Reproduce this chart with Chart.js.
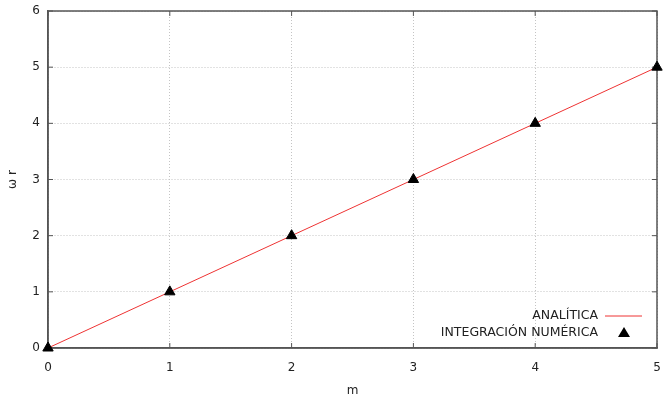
<!DOCTYPE html>
<html>
<head>
<meta charset="utf-8">
<script src="https://cdn.jsdelivr.net/npm/chart.js@4"></script>
<style>
  html, body { margin: 0; padding: 0; background: #fff; }
  #wrap { width: 664px; height: 396px; }
</style>
</head>
<body>
<div id="wrap"><canvas id="chart" width="664" height="396"></canvas></div>
<script>
const mValues = [0, 1, 2, 3, 4, 5];
const analytic = [0, 1, 2, 3, 4, 5];
const numeric = [0, 1, 2, 3, 4, 5];
const seriesNames = ["ANALÍTICA", "INTEGRACIÓN NUMÉRICA"];

const FONT = "DejaVu Sans";

// legend drawn the gnuplot way: text on the left, sample on the right
const gnuLegend = {
  id: "gnuLegend",
  afterDatasetsDraw(chart) {
    const ctx = chart.ctx;
    const a = chart.chartArea;
    const textX = a.right - 59;
    const rows = [a.bottom - 32, a.bottom - 15];
    ctx.save();
    ctx.font = "12.5px " + FONT;
    ctx.fillStyle = "#222";
    ctx.textAlign = "right";
    ctx.textBaseline = "middle";
    seriesNames.forEach((n, i) => ctx.fillText(n, textX, rows[i]));
    ctx.strokeStyle = "#ee3333";
    ctx.lineWidth = 1;
    ctx.beginPath();
    ctx.moveTo(textX + 7, rows[0]);
    ctx.lineTo(textX + 44, rows[0]);
    ctx.stroke();
    const tx = textX + 26, ty = rows[1];
    ctx.fillStyle = "#000";
    ctx.beginPath();
    ctx.moveTo(tx, ty - 6);
    ctx.lineTo(tx + 6, ty + 4);
    ctx.lineTo(tx - 6, ty + 4);
    ctx.closePath();
    ctx.fill();
    ctx.restore();
  }
};

// box around the plot plus small inward tick marks
const frame = {
  id: "frame",
  beforeDatasetsDraw(chart) {
    const a = chart.chartArea, ctx = chart.ctx;
    const sx = chart.scales.x, sy = chart.scales.y;
    ctx.save();
    ctx.strokeStyle = "#555";
    ctx.lineWidth = 1.5;
    ctx.strokeRect(a.left, a.top, a.right - a.left, a.bottom - a.top);
    ctx.lineWidth = 1;
    ctx.beginPath();
    mValues.forEach(v => {
      const px = sx.getPixelForValue(v);
      ctx.moveTo(px, a.bottom); ctx.lineTo(px, a.bottom - 5);
      ctx.moveTo(px, a.top); ctx.lineTo(px, a.top + 5);
    });
    sy.ticks.forEach(t => {
      const py = sy.getPixelForValue(t.value);
      ctx.moveTo(a.left, py); ctx.lineTo(a.left + 5, py);
      ctx.moveTo(a.right, py); ctx.lineTo(a.right - 5, py);
    });
    ctx.stroke();
    ctx.restore();
  }
};

new Chart(document.getElementById("chart"), {
  type: "scatter",
  data: {
    datasets: [
      {
        label: seriesNames[0],
        data: mValues.map((m, i) => ({ x: m, y: analytic[i] })),
        showLine: true,
        borderColor: "#ee3333",
        borderWidth: 1,
        pointRadius: 0,
        order: 2
      },
      {
        label: seriesNames[1],
        data: mValues.map((m, i) => ({ x: m, y: numeric[i] })),
        pointStyle: "triangle",
        pointRadius: 6,
        backgroundColor: "#000",
        borderColor: "#000",
        clip: false,
        order: 1
      }
    ]
  },
  options: {
    responsive: false,
    animation: false,
    layout: { padding: { top: 11, right: 7, left: 0, bottom: 0 } },
    plugins: { legend: { display: false }, tooltip: { enabled: false } },
    scales: {
      x: {
        type: "linear",
        min: 0, max: 5,
        afterFit(s) { s.height = 48; s.paddingLeft = 0; s.paddingRight = 0; },
        ticks: { stepSize: 1, color: "#222", font: { family: FONT, size: 12 }, padding: 13 },
        grid: { color: "#c4c4c4", lineWidth: 1, drawTicks: false },
        border: { color: "#555", width: 1.5, dash: [1, 2] },
        title: { display: true, text: "m", color: "#222", font: { family: FONT, size: 12 }, padding: { top: 0, bottom: -2 } }
      },
      y: {
        min: 0, max: 6,
        afterFit(s) { s.width = 48; s.paddingTop = 0; s.paddingBottom = 0; },
        ticks: { stepSize: 1, color: "#222", font: { family: FONT, size: 12 }, padding: 8 },
        grid: { color: "#c4c4c4", lineWidth: 1, drawTicks: false },
        border: { color: "#555", width: 1.5, dash: [1, 2] },
        title: { display: true, text: "ω r", color: "#222", font: { family: FONT, size: 12 }, padding: { top: 6, bottom: 6 } }
      }
    }
  },
  plugins: [gnuLegend, frame]
});
</script>
</body>
</html>
